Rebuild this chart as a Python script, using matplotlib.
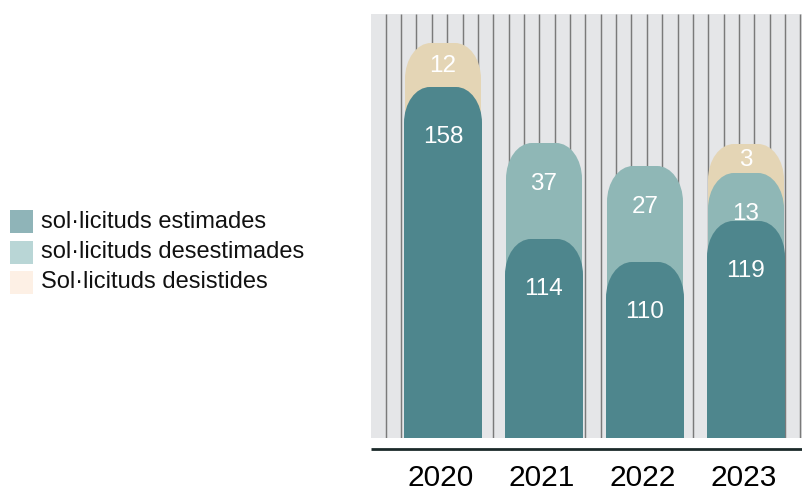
import numpy as np
import matplotlib
matplotlib.use("Agg")
import matplotlib.pyplot as plt
from matplotlib.path import Path
from matplotlib.patches import PathPatch, Rectangle

plt.rcParams['font.family'] = ['Liberation Sans', 'DejaVu Sans']

# Data
years = ['2020', '2021', '2022', '2023']
estimades = [158, 114, 110, 119]
desestimades = [0, 37, 27, 13]
desistides = [12, 0, 0, 3]
# drawn segment heights (the bars are not to scale)
h_estimades = [351, 199, 176, 217]
h_desestimades = [0, 96, 96, 48]
h_desistides = [44, 0, 0, 29]

series_names = ['sol·licituds estimades', 'sol·licituds desestimades', 'Sol·licituds desistides']
bar_colors = ['#4e868d', '#8fb7b6', '#e4d5b5']
legend_colors = ['#8fb4b8', '#b9d6d6', '#fdf0e5']

W, H = 802, 492
fig = plt.figure(figsize=(W / 100, H / 100), dpi=100)
# plot area in pixels: x 371..802, y 14..438
ax = fig.add_axes([371 / W, (H - 438) / H, 431 / W, 424 / H])
ax.set_facecolor('#e5e6e8')
step = 101.0  # px between bar centres
ax.set_xlim(-72 / step, (431 - 72) / step)
ax.set_ylim(0, 424)
for s in ax.spines.values():
    s.set_visible(False)
ax.set_xticks([])
ax.set_yticks([])

# vertical stripes
stripe_x = (14.7 - 72) / step + np.arange(28) * 15.36 / step
ax.vlines(stripe_x, 0, 424, colors='#7a7a7a', lw=1.05, zorder=1)

px_x = 1 / step  # data x per pixel
rx, ry = 26 * px_x, 36


def rounded_bar(xc, width, top):
    x0, x1 = xc - width / 2, xc + width / 2
    r_y = min(ry, top)
    k = 0.5523
    verts = [(x0, 0), (x0, top - r_y),
             (x0, top - r_y + k * r_y), (x0 + rx - k * rx, top), (x0 + rx, top),
             (x1 - rx, top),
             (x1 - rx + k * rx, top), (x1, top - r_y + k * r_y), (x1, top - r_y),
             (x1, 0), (x0, 0)]
    codes = [Path.MOVETO, Path.LINETO,
             Path.CURVE4, Path.CURVE4, Path.CURVE4,
             Path.LINETO,
             Path.CURVE4, Path.CURVE4, Path.CURVE4,
             Path.LINETO, Path.CLOSEPOLY]
    return PathPatch(Path(verts, codes), lw=0, zorder=2)


x = np.arange(len(years))
bar_w = 78 * px_x
seg_h = [h_estimades, h_desestimades, h_desistides]
seg_v = [estimades, desestimades, desistides]
for i in x:
    tops = np.cumsum([seg_h[s][i] for s in range(3)])
    # draw top segment first so lower ones overlap it
    for s in (2, 1, 0):
        if seg_h[s][i] <= 0:
            continue
        w = bar_w if s == 0 else bar_w - 2 * px_x
        p = rounded_bar(i, w, tops[s])
        p.set_facecolor(bar_colors[s])
        ax.add_patch(p)
        visible = seg_h[s][i]
        if visible < 46:
            off = visible * 0.45
        else:
            off = 47 if s == 0 else 38
        ax.text(i, tops[s] - off - 8.7, str(seg_v[s][i]), color='white',
                fontsize=17.5, ha='center', va='baseline', zorder=3)

# baseline and year labels
ax.plot([ax.get_xlim()[0], ax.get_xlim()[1]], [-11.3, -11.3], color='#1c2a2a',
        lw=2.0, clip_on=False, solid_capstyle='butt')
for i, yr in enumerate(years):
    ax.text(i - 2.5 * px_x, -48, yr, fontsize=21.5, ha='center', va='baseline',
            color='black', clip_on=False)

# legend
rows_y = [221.5, 252, 282.5]
for name, col, yc in zip(series_names, legend_colors, rows_y):
    fig.add_artist(Rectangle((10 / W, (H - yc - 11.5) / H), 23 / W, 23 / H,
                             transform=fig.transFigure, facecolor=col, lw=0))
    fig.text(41 / W, (H - yc) / H, name, fontsize=17, va='center', ha='left',
             color='#111111')

fig.savefig('out.png', dpi=100)
